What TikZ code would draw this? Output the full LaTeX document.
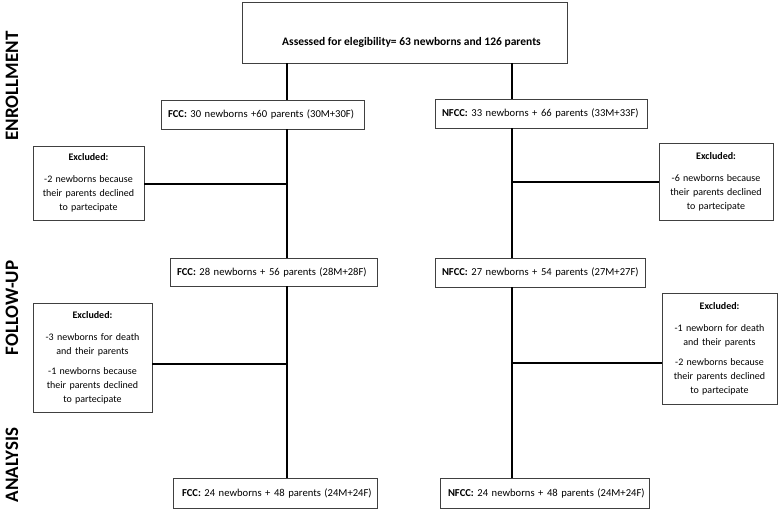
\documentclass[tikz,border=0pt]{standalone}
\usepackage{fontspec}
\setmainfont{Carlito}
\usetikzlibrary{positioning}

\begin{document}
\begin{tikzpicture} [x = 1pt, y = -1pt,
    box/.style = {draw = black!75, line width = 0.8pt, inner ysep = 0pt, inner xsep = 7pt,
        align = left, font = \fontsize{10.6}{12}\selectfont},
    excl/.style = {draw = black!75, line width = 0.8pt, inner sep = 0pt, align = center,
        font = \fontsize{10}{14}\selectfont},
    phase/.style = {rotate = 90, inner sep = 0pt, font = \bfseries\fontsize{19}{19}\selectfont}]
\useasboundingbox (0,0) rectangle (778,511);
% phases
\node [phase] (enrol) at (12,86) {ENROLLMENT};
\node [phase] (follow) at (12,308) {FOLLOW-UP};
\node [phase] (analysis) at (12,465) {ANALYSIS};
% boxes
\node [draw = black!75, line width = 0.8pt, inner sep = 0pt, minimum width = 325pt,
    text height = 43.5pt, text depth = 17.5pt, font = \bfseries\fontsize{11.5}{13}\selectfont]
    (top) at (404.5,32.5) {\hspace*{14pt}Assessed for elegibility= 63 newborns and 126 parents};
\node [box, text width = 189pt, minimum height = 29pt] (fcc1) at (262.5,114.5)
    {\mbox{\textbf{FCC:} 30 newborns +60 parents (30M+30F)}};
\node [box, text width = 198pt, minimum height = 29pt] (nfcc1) at (541,113.5)
    {\mbox{\textbf{NFCC:} 33 newborns + 66 parents (33M+33F)}};
\node [excl, text width = 111pt, minimum height = 74pt] (exl1) at (88.5,183)
    {\textbf{Excluded:}\\[8pt] -2 newborns because\\ their parents declined\\ to partecipate};
\node [excl, text width = 114pt, minimum height = 77pt] (exr1) at (716,181.5)
    {\textbf{Excluded:}\\[8pt] -6 newborns because\\ their parents declined\\ to partecipate};
\node [box, text width = 193pt, minimum height = 28pt] (fcc2) at (273.5,272)
    {\mbox{\textbf{FCC:} 28 newborns + 56 parents (28M+28F)}};
\node [box, text width = 196pt, minimum height = 29pt] (nfcc2) at (540,272.5)
    {\mbox{\textbf{NFCC:} 27 newborns + 54 parents (27M+27F)}};
\node [excl, text width = 119pt, minimum height = 109pt] (exl2) at (92.5,357.5)
    {\textbf{Excluded:}\\[8pt] -3 newborns for death\\ and their parents\\[6pt]
     -1 newborns because\\ their parents declined\\ to partecipate};
\node [excl, text width = 115pt, minimum height = 111pt] (exr2) at (719.5,348.5)
    {\textbf{Excluded:}\\[8pt] -1 newborn for death\\ and their parents\\[6pt]
     -2 newborns because\\ their parents declined\\ to partecipate};
\node [box, text width = 190pt, minimum height = 30pt] (fcc3) at (275,493)
    {\mbox{\hspace*{2pt}\textbf{FCC:} 24 newborns + 48 parents (24M+24F)}};
\node [box, text width = 195pt, minimum height = 30pt] (nfcc3) at (544.5,493)
    {\mbox{\hspace*{1pt}\textbf{NFCC:} 24 newborns + 48 parents (24M+24F)}};
% connectors
\coordinate (lcol) at (287,0);
\coordinate (rcol) at (512,0);
\coordinate (bl1) at (287,184);
\coordinate (br1) at (512,182);
\coordinate (bl2) at (287,364);
\coordinate (br2) at (512,363);
\path [line width = 1.3pt]
    (top.south -| lcol) edge (fcc1.north -| lcol)
    (top.south -| rcol) edge (nfcc1.north -| rcol)
    (fcc1.south -| lcol) edge (fcc2.north -| lcol)
    (nfcc1.south -| rcol) edge (nfcc2.north -| rcol)
    (fcc2.south -| lcol) edge (fcc3.north -| lcol)
    (nfcc2.south -| rcol) edge (nfcc3.north -| rcol)
    (exl1.east |- bl1) edge (bl1)
    (exr1.west |- br1) edge (br1)
    (exl2.east |- bl2) edge (bl2)
    (exr2.west |- br2) edge (br2);
\end{tikzpicture}
\end{document}
